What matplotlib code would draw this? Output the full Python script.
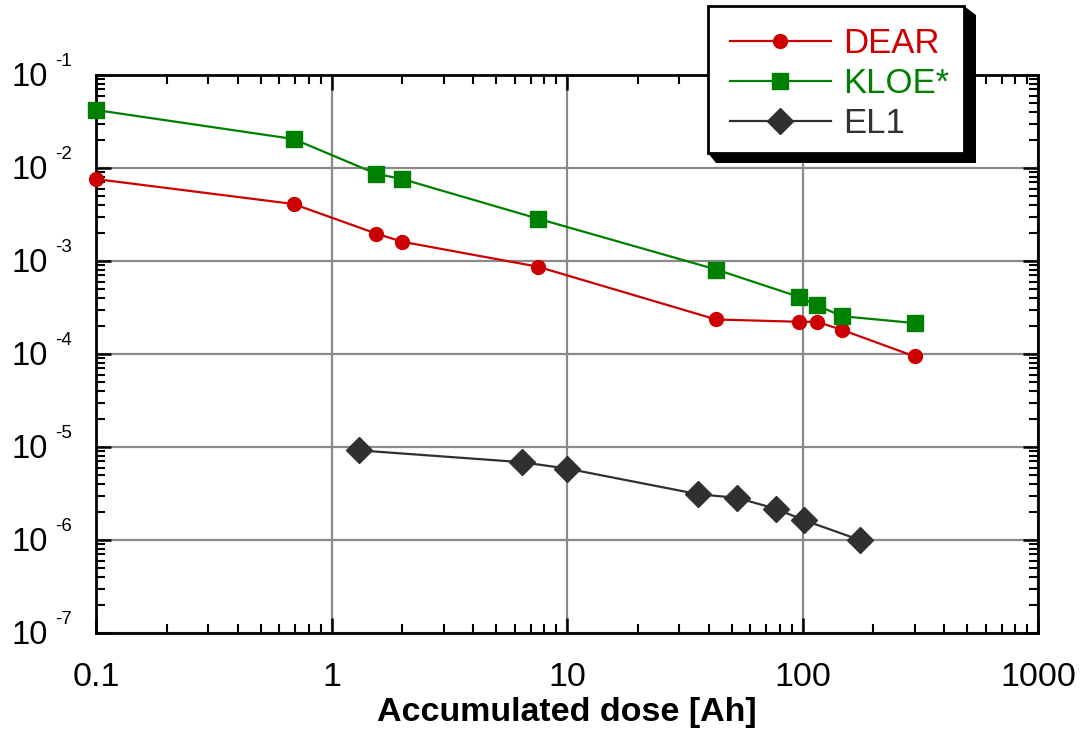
import matplotlib
matplotlib.use("Agg")
import matplotlib.pyplot as plt
from matplotlib.patches import Polygon, Rectangle
from matplotlib.ticker import LogLocator, NullFormatter, FixedLocator, FixedFormatter
from matplotlib.transforms import blended_transform_factory, ScaledTranslation

# ---------------- data ----------------
dear_x = [0.1, 0.69, 1.55, 2.0, 7.5, 43, 97, 115, 147, 300]
dear_y = [7.6e-3, 4.1e-3, 1.97e-3, 1.61e-3, 8.7e-4, 2.35e-4, 2.22e-4, 2.22e-4, 1.82e-4, 9.4e-5]

kloe_x = [0.1, 0.69, 1.55, 2.0, 7.5, 43, 97, 115, 147, 300]
kloe_y = [4.2e-2, 2.05e-2, 8.66e-3, 7.6e-3, 2.86e-3, 8.1e-4, 4.1e-4, 3.35e-4, 2.55e-4, 2.15e-4]

el1_x = [1.31, 6.45, 10.0, 36, 52.7, 76.9, 101, 175]
el1_y = [9.2e-6, 6.86e-6, 5.86e-6, 3.11e-6, 2.84e-6, 2.17e-6, 1.64e-6, 1.0e-6]

series_labels = ["DEAR", "KLOE*", "EL1"]
x_ticks = [0.1, 1, 10, 100, 1000]
x_tick_labels = ["0.1", "1", "10", "100", "1000"]
y_tick_exponents = [-7, -6, -5, -4, -3, -2, -1]
x_label = "Accumulated dose [Ah]"

# ---------------- style ----------------
plt.rcParams["font.family"] = ["Liberation Sans", "DejaVu Sans"]

RED = "#cc0000"
GREEN = "#008000"
DARK = "#303030"

W, H = 1091, 733
fig = plt.figure(figsize=(W / 100, H / 100), dpi=100)
ax = fig.add_axes([96 / W, 1 - 633 / H, (1038 - 96) / W, (633 - 75) / H])

ax.set_xscale("log")
ax.set_yscale("log")
ax.set_xlim(0.1, 1000)
ax.set_ylim(1e-7, 1e-1)

ax.plot(dear_x, dear_y, "-o", color=RED, lw=1.6, ms=10, label=series_labels[0],
        zorder=3, clip_on=False)
ax.plot(kloe_x, kloe_y, "-s", color=GREEN, lw=1.6, ms=12, label=series_labels[1],
        zorder=3, clip_on=False)
ax.plot(el1_x, el1_y, "-D", color=DARK, lw=1.6, ms=13, label=series_labels[2],
        zorder=3, clip_on=False)

ax.xaxis.set_major_locator(FixedLocator(x_ticks))
ax.xaxis.set_major_formatter(FixedFormatter(x_tick_labels))
ax.xaxis.set_minor_locator(LogLocator(base=10, subs=range(2, 10), numticks=20))
ax.xaxis.set_minor_formatter(NullFormatter())
ax.yaxis.set_major_locator(FixedLocator([10.0 ** e for e in y_tick_exponents]))
ax.yaxis.set_major_formatter(NullFormatter())
ax.yaxis.set_minor_locator(LogLocator(base=10, subs=range(2, 10), numticks=20))
ax.yaxis.set_minor_formatter(NullFormatter())

ax.grid(True, which="major", color="#8a8a8a", lw=1.6)
ax.set_axisbelow(True)

ax.tick_params(which="both", direction="in", top=True, right=True, colors="black")
ax.tick_params(which="major", length=11, width=1.8, labelsize=24.5)
ax.tick_params(which="minor", length=6.5, width=1.5)
ax.tick_params(axis="x", which="major", pad=21)
for s in ax.spines.values():
    s.set_linewidth(2.0)

# y tick labels: "10" with a small, high superscript exponent
ybase = blended_transform_factory(ax.transAxes, ax.transData)
for e in y_tick_exponents:
    t_main = ybase + ScaledTranslation(-35.0 / 72, -7.7 / 72, fig.dpi_scale_trans)
    ax.text(0, 10.0 ** e, "10", transform=t_main, ha="right", va="baseline",
            fontsize=23.5, clip_on=False)
    t_exp = ybase + ScaledTranslation(-17.3 / 72, 6.3 / 72, fig.dpi_scale_trans)
    ax.text(0, 10.0 ** e, str(e), transform=t_exp, ha="right", va="baseline",
            fontsize=13.5, clip_on=False)

ax.set_xlabel(x_label, fontsize=24.5, fontweight="bold", labelpad=3)

# ---------------- legend with black 3D shadow ----------------
def fx(px):
    return px / W

def fy(py):
    return 1 - py / H

x0, x1, y0, y1 = 708, 964, 6, 153
shadow = Polygon([(fx(x1), fy(y0)), (fx(x1 + 12), fy(y0 + 9)), (fx(x1 + 12), fy(y1 + 10)),
                  (fx(x0 + 8), fy(y1 + 10)), (fx(x0), fy(y1)), (fx(x0), fy(y0))],
                 closed=True, transform=fig.transFigure, facecolor="black",
                 edgecolor="black", lw=0, zorder=10)
box = Rectangle((fx(x0), fy(y1)), fx(x1) - fx(x0), fy(y0) - fy(y1),
                transform=fig.transFigure, facecolor="white", edgecolor="black",
                lw=2.0, zorder=11)
fig.patches.extend([shadow, box])

handles, labels = ax.get_legend_handles_labels()
leg = fig.legend(handles, labels, loc="upper left",
                 bbox_to_anchor=(fx(730), fy(27)), bbox_transform=fig.transFigure,
                 frameon=False, fontsize=25, handlelength=2.9, handletextpad=0.37,
                 labelspacing=0.2, borderpad=0, borderaxespad=0, labelcolor="linecolor")
leg.set_zorder(12)

fig.savefig("out.png", dpi=100)
